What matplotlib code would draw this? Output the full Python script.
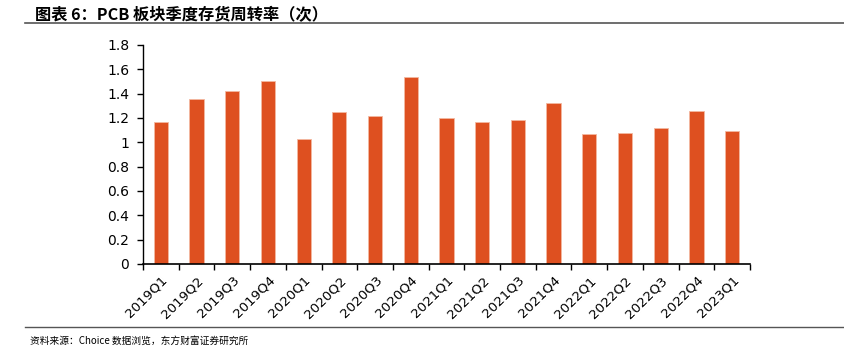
import matplotlib.pyplot as plt
from matplotlib.lines import Line2D

plt.rcParams['font.family'] = ['Noto Sans CJK SC', 'DejaVu Sans']

quarters = ['2019Q1', '2019Q2', '2019Q3', '2019Q4', '2020Q1', '2020Q2',
            '2020Q3', '2020Q4', '2021Q1', '2021Q2', '2021Q3', '2021Q4',
            '2022Q1', '2022Q2', '2022Q3', '2022Q4', '2023Q1']
turnover = [1.167, 1.358, 1.419, 1.504, 1.027, 1.249, 1.213, 1.537, 1.200,
            1.164, 1.181, 1.323, 1.065, 1.074, 1.120, 1.255, 1.090]
yticks = [0, 0.2, 0.4, 0.6, 0.8, 1, 1.2, 1.4, 1.6, 1.8]
ytick_labels = ['0', '0.2', '0.4', '0.6', '0.8', '1', '1.2', '1.4', '1.6', '1.8']

BAR_COLOR = '#de5020'

fig = plt.figure(figsize=(8.44, 3.51), dpi=100)
ax = fig.add_axes([0.1694, 0.2479, 0.7192, 0.6239])

x = list(range(len(quarters)))
ax.bar(x, turnover, width=0.4, color=BAR_COLOR, edgecolor='#f3b8a0',
       linewidth=0.6, zorder=2)

ax.set_xlim(-0.5, len(quarters) - 0.5)
ax.set_ylim(0, 1.8)
ax.set_yticks(yticks)
ax.set_yticklabels(ytick_labels, fontsize=10, family='DejaVu Sans')
# category boundaries carry the tick marks, labels sit on minor ticks
ax.set_xticks([i + 0.5 for i in range(-1, len(quarters))], minor=False)
ax.set_xticklabels([])
ax.set_xticks(x, minor=True)
ax.set_xticklabels(quarters, minor=True, rotation=45, ha='right',
                   rotation_mode='anchor', fontsize=9.6, family='DejaVu Sans')
ax.tick_params(axis='x', which='major', direction='out', length=4, width=1)
ax.tick_params(axis='x', which='minor', length=0, pad=7)
ax.tick_params(axis='y', direction='out', length=4, width=1, pad=6)

for side in ('top', 'right'):
    ax.spines[side].set_visible(False)
ax.spines['left'].set_linewidth(1)
ax.spines['bottom'].set_linewidth(1.2)

fig.text(0.042, 0.958, '图表 6：PCB 板块季度存货周转率（次）', fontsize=11.7,
         fontweight='bold', va='center', ha='left')
fig.add_artist(Line2D([0.03, 1.0], [0.935, 0.935], color='#555555',
                      linewidth=1.2, transform=fig.transFigure))
fig.add_artist(Line2D([0.03, 1.0], [0.069, 0.069], color='#555555',
                      linewidth=1.0, transform=fig.transFigure))
fig.text(0.036, 0.028, '资料来源：Choice 数据浏览，东方财富证券研究所',
         fontsize=7, va='center', ha='left')

fig.savefig('out.png', dpi=100)
